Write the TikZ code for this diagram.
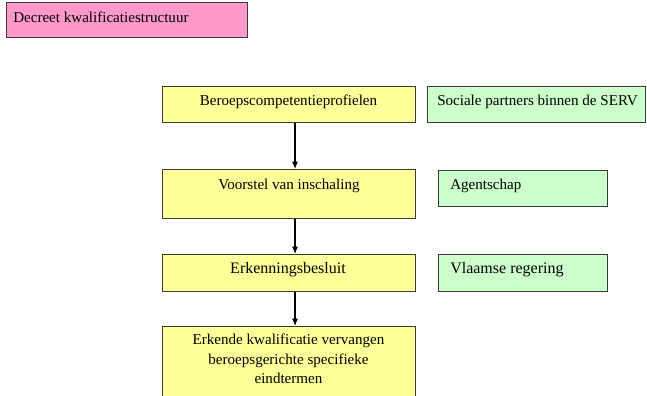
\documentclass[tikz,border=0pt]{standalone}
\usepackage{fontspec}
\setmainfont{Liberation Serif}
\usetikzlibrary{arrows.meta}
\definecolor{pinkfill}{HTML}{FF99CC}
\definecolor{yelfill}{HTML}{FFFF99}
\definecolor{grnfill}{HTML}{CCFFCC}
\definecolor{edge}{HTML}{3A3A3A}
\begin{document}
\begin{tikzpicture}[x=0.75pt,y=-0.75pt,
  box/.style={draw=edge, line width=0.8pt, rectangle, inner sep=0pt, anchor=north west},
  pbox/.style={box, fill=pinkfill},
  ybox/.style={box, fill=yelfill},
  gbox/.style={box, fill=grnfill},
  txt/.style={inner sep=0pt, font=\fontsize{11.3}{14.6}\selectfont, align=center},
  txtb/.style={inner sep=0pt, font=\fontsize{12}{14.6}\selectfont},
  arr/.style={draw=black, line width=0.8pt, -{Latex[length=5.5pt,width=4.5pt]}}]
\useasboundingbox (0,0) rectangle (647,396);
% boxes
\node[pbox, minimum width=241*0.75pt, minimum height=35*0.75pt] (p0) at (6,2) {};
\node[ybox, minimum width=253*0.75pt, minimum height=36*0.75pt] (b1) at (162,86) {};
\node[gbox, minimum width=218*0.75pt, minimum height=36*0.75pt] (g1) at (427,86) {};
\node[ybox, minimum width=253*0.75pt, minimum height=49*0.75pt] (b2) at (162,169) {};
\node[gbox, minimum width=169*0.75pt, minimum height=36*0.75pt] (g2) at (438,170) {};
\node[ybox, minimum width=253*0.75pt, minimum height=37*0.75pt] (b3) at (162,254) {};
\node[gbox, minimum width=169*0.75pt, minimum height=37*0.75pt] (g3) at (438,254) {};
\node[ybox, minimum width=253*0.75pt, minimum height=80*0.75pt] (b4) at (162,326) {};
% texts
\node[txt, anchor=west] (tp0) at (13,17) {Decreet kwalificatiestructuur};
\node[txt] (tb1) at (288.5,102) {Beroepscompetentieprofielen};
\node[txt, anchor=west] (tg1) at (437,102) {Sociale partners binnen de SERV};
\node[txt] (tb2) at (289,186) {Voorstel van inschaling};
\node[txt, anchor=west] (tg2) at (450,186) {Agentschap};
\node[txtb] (tb3) at (288,270) {Erkenningsbesluit};
\node[txtb, anchor=west] (tg3) at (450,270) {Vlaamse regering};
\node[txt, anchor=north] (tb4) at (288.5,334) {Erkende kwalificatie vervangen\\beroepsgerichte specifieke\\eindtermen};
% arrows
\coordinate (ax) at (295,0);
\draw[arr] (b1.south -| ax) -- (b2.north -| ax);
\draw[arr] (b2.south -| ax) -- (b3.north -| ax);
\draw[arr] (b3.south -| ax) -- (b4.north -| ax);
\end{tikzpicture}
\end{document}
